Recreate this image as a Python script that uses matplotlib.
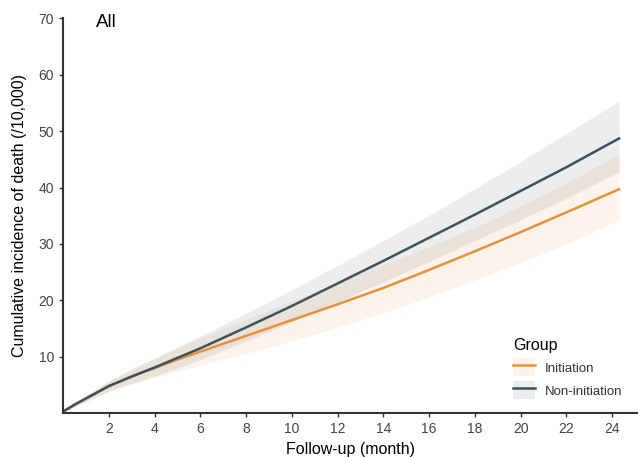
import numpy as np
import matplotlib.pyplot as plt
from matplotlib.patches import Patch
from matplotlib.lines import Line2D

plt.rcParams['font.family'] = ['Liberation Sans', 'DejaVu Sans']

# follow-up months
months = [0, 0.5, 1, 1.5, 2, 3, 4, 5, 6, 8, 10, 12, 14, 16, 18, 20, 22, 24.3]

# Non-initiation group
non_mid = [0.3, 1.5, 2.6, 3.7, 4.8, 6.5, 8.1, 9.8, 11.5, 15.2, 19.0, 23.0, 27.0, 31.1, 35.2, 39.4, 43.6, 48.7]
non_lo = [0.3, 1.1, 2.1, 3.0, 3.9, 5.3, 6.6, 8.0, 9.5, 12.8, 16.2, 19.7, 23.3, 26.9, 30.6, 34.3, 38.1, 42.8]
non_hi = [0.3, 1.9, 3.1, 4.4, 5.7, 7.7, 9.7, 11.7, 13.7, 17.7, 21.9, 26.2, 30.6, 35.1, 39.8, 44.6, 49.6, 55.3]

# Initiation group
ini_mid = [0.2, 1.5, 2.6, 3.7, 4.8, 6.5, 8.0, 9.5, 10.9, 13.7, 16.5, 19.3, 22.2, 25.4, 28.7, 32.1, 35.6, 39.7]
ini_lo = [0.2, 1.1, 2.1, 3.0, 3.8, 5.1, 6.3, 7.4, 8.5, 10.6, 12.8, 15.2, 17.8, 20.6, 23.6, 26.7, 30.0, 34.2]
ini_hi = [0.2, 1.9, 3.1, 4.4, 5.8, 7.9, 9.8, 11.6, 13.3, 16.6, 19.9, 23.2, 26.3, 29.5, 32.9, 36.7, 40.8, 45.9]

ORANGE = '#E8913A'
SLATE = '#3D525C'

fig = plt.figure(figsize=(6.38, 4.57), dpi=100)
ax = fig.add_axes([0.099, 0.096, 0.9, 0.864])

ax.fill_between(months, ini_lo, ini_hi, color=ORANGE, alpha=0.1, lw=0)
ax.fill_between(months, non_lo, non_hi, color=SLATE, alpha=0.1, lw=0)
ax.plot(months, ini_mid, color=ORANGE, lw=1.8)
ax.plot(months, non_mid, color=SLATE, lw=1.8)

ax.set_xlim(0, 25.1)
ax.set_ylim(0, 70)
ax.set_xticks(range(2, 25, 2))
ax.set_yticks(range(10, 71, 10))
for s in ['top', 'right']:
    ax.spines[s].set_visible(False)
for s in ['left', 'bottom']:
    ax.spines[s].set_color('#333333')
    ax.spines[s].set_linewidth(1.5)
ax.tick_params(length=3, width=1, color='#333333', labelcolor='#444444', labelsize=10)

ax.set_xlabel('Follow-up (month)', fontsize=11.5, labelpad=4)
ax.set_ylabel('Cumulative incidence of death (/10,000)', fontsize=11.5, labelpad=8)
ax.text(0.057, 0.99, 'All', transform=ax.transAxes, fontsize=13.5, va='center')

handles = [
    (Patch(facecolor=ORANGE, alpha=0.1, lw=0), Line2D([], [], color=ORANGE, lw=1.8)),
    (Patch(facecolor=SLATE, alpha=0.1, lw=0), Line2D([], [], color=SLATE, lw=1.8)),
]
leg = ax.legend(handles, ['Initiation', 'Non-initiation'], title='Group',
                loc='lower right', bbox_to_anchor=(0.995, 0.005), frameon=False,
                fontsize=9.5, title_fontsize=11.5, handlelength=1.6,
                handleheight=1.7, labelspacing=0.4, handletextpad=0.8,
                alignment='left')
for t in leg.get_texts():
    t.set_color('#333333')

fig.savefig('out.png', dpi=100)
